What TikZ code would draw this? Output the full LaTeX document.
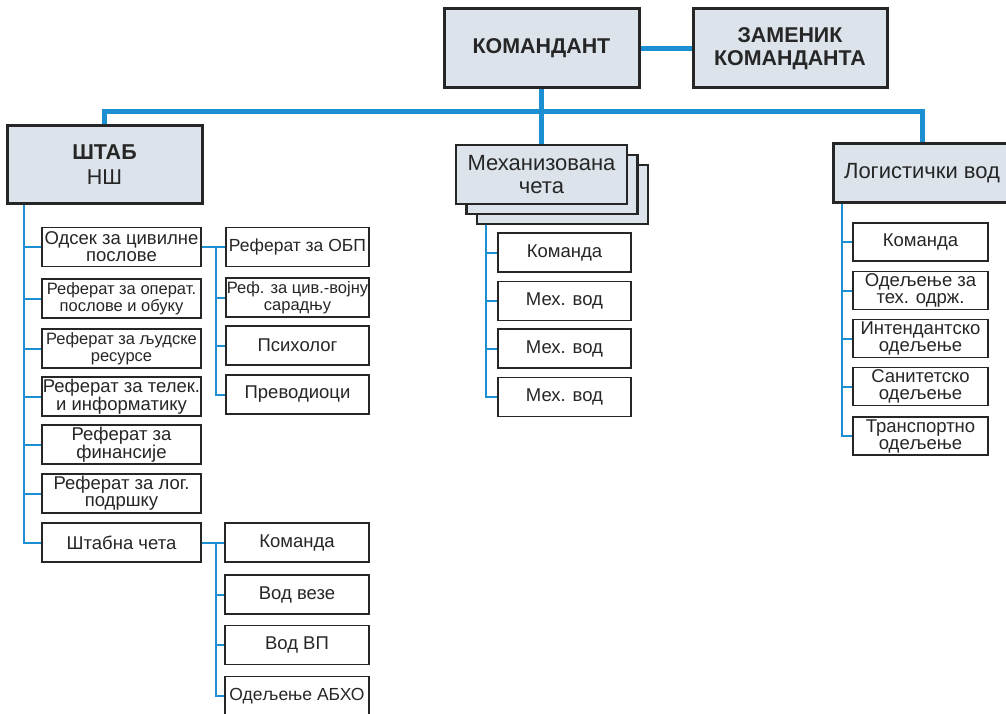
\documentclass[tikz,border=0pt]{standalone}
\usepackage{fontspec}
\setmainfont{Liberation Sans}
\usetikzlibrary{backgrounds}
\definecolor{lineblue}{HTML}{1B8FD2}
\definecolor{boxfill}{HTML}{DCE3EB}
\definecolor{boxline}{HTML}{262626}
\begin{document}
\begin{tikzpicture}[x=1pt,y=-1pt,
  head/.style={draw=boxline,line width=3pt,fill=boxfill,align=center,inner sep=0pt,text=boxline},
  unit/.style={draw=boxline,line width=1.8pt,fill=white,align=center,inner sep=0pt,minimum height=39pt,
    font=\fontsize{18.5}{17}\selectfont,text=boxline},
  tight/.style={font=\fontsize{16.5}{17}\selectfont},
  trunk/.style={lineblue,line width=5pt},
  branch/.style={lineblue,line width=2pt}]
\useasboundingbox (0,0) rectangle (1006,714);
% command level
\node[head,minimum width=195pt,minimum height=79pt,font=\bfseries\fontsize{21.4}{23}\selectfont] (kom) at (541.5,48.5) {КОМАНДАНТ};
\node[head,minimum width=194pt,minimum height=79pt,font=\bfseries\fontsize{21.4}{23}\selectfont] (zam) at (790,48.5) {ЗАМЕНИК\\КОМАНДАНТА};
% units
\node[head,minimum width=195pt,minimum height=78pt,font=\fontsize{21.5}{25}\selectfont] (stab) at (104.5,165) {\textbf{ШТАБ}\\НШ};
\node[head,line width=2.5pt,minimum width=171pt,minimum height=59pt] (mech3) at (562.5,194.5) {};
\node[head,line width=2.5pt,minimum width=171pt,minimum height=59pt] (mech2) at (552,184.5) {};
\node[head,line width=2.5pt,minimum width=171pt,minimum height=59pt,font=\fontsize{22}{23}\selectfont] (mech) at (541.5,174.5) {Механизована\\чета};
\node[head,minimum width=178pt,minimum height=59pt,font=\fontsize{22}{23}\selectfont] (log) at (922,173.5) {Логистички вод};
% staff
\node[unit,minimum width=159pt] (civ) at (121.5,247) {Одсек за цивилне\\послове};
\node[unit,tight,minimum width=159pt] (oper) at (121.5,298.5) {Реферат за операт.\\послове и обуку};
\node[unit,tight,minimum width=159pt] (ljud) at (121.5,348.5) {Реферат за људске\\ресурсе};
\node[unit,minimum width=159pt] (tel) at (121.5,396.5) {Реферат за телек.\\и информатику};
\node[unit,minimum width=159pt] (fin) at (121.5,444.5) {Реферат за\\финансије};
\node[unit,minimum width=159pt] (logp) at (121.5,493.5) {Реферат за лог.\\подршку};
\node[unit,minimum width=159pt] (stc) at (121.5,542.5) {Штабна чета};
\node[unit,minimum width=143pt,font=\fontsize{17.5}{17}\selectfont] (obp) at (297.5,247) {Реферат за ОБП};
\node[unit,tight,minimum width=143pt] (cvs) at (297.5,297.5) {Реф. за цив.-војну\\сарадњу};
\node[unit,minimum width=143pt] (psi) at (297.5,345.5) {Психолог};
\node[unit,minimum width=143pt] (prev) at (297.5,394.5) {Преводиоци};
\node[unit,minimum width=144pt] (stk) at (297,542.5) {Команда};
\node[unit,minimum width=144pt] (vv) at (297,594.5) {Вод везе};
\node[unit,minimum width=144pt] (vvp) at (297,645) {Вод ВП};
\node[unit,minimum width=144pt,font=\fontsize{17.5}{17}\selectfont] (abho) at (297,696) {Одељење АБХО};
% mechanized company
\node[unit,minimum width=133pt] (mk) at (564.5,252.5) {Команда};
\node[unit,minimum width=133pt] (mv1) at (564.5,301) {Мех. вод};
\node[unit,minimum width=133pt] (mv2) at (564.5,348.5) {Мех. вод};
\node[unit,minimum width=133pt] (mv3) at (564.5,397) {Мех. вод};
% logistics platoon
\node[unit,minimum width=135pt,minimum height=38pt] (lk) at (920.5,242) {Команда};
\node[unit,minimum width=135pt,minimum height=38pt] (ltx) at (920.5,290.5) {Одељење за\\тех. одрж.};
\node[unit,minimum width=135pt,minimum height=38pt] (lint) at (920.5,338.5) {Интендантско\\одељење};
\node[unit,minimum width=135pt,minimum height=38pt] (lsan) at (920.5,386.5) {Санитетско\\одељење};
\node[unit,minimum width=135pt,minimum height=38pt] (ltr) at (920.5,436) {Транспортно\\одељење};
\begin{scope}[on background layer]
\fill[white] (0,0) rectangle (1006,714);
\coordinate (bus) at (541.5,112);
\draw[trunk] (kom.east) -- (zam.west);
\draw[trunk] (kom.south) -- (bus);
\draw[trunk] (stab.north) |- (bus) -| (log.north);
\draw[trunk] (bus) -- (mech.north);
\coordinate (stabl) at ([xshift=18pt]stab.south west);
\foreach \n in {civ,oper,ljud,tel,fin,logp,stc} \draw[branch] (stabl) |- (\n.west);
\coordinate (civj) at ([xshift=14pt]civ.east);
\draw[branch] (civ.east) -- (civj);
\foreach \n in {obp,cvs,psi,prev} \draw[branch] (civj) |- (\n.west);
\coordinate (stcj) at ([xshift=14pt]stc.east);
\draw[branch] (stc.east) -- (stcj);
\foreach \n in {stk,vv,vvp,abho} \draw[branch] (stcj) |- (\n.west);
\coordinate (mechl) at ([xshift=10pt]mech3.south west);
\foreach \n in {mk,mv1,mv2,mv3} \draw[branch] (mechl) |- (\n.west);
\coordinate (logl) at ([xshift=10pt]log.south west);
\foreach \n in {lk,ltx,lint,lsan,ltr} \draw[branch] (logl) |- (\n.west);
\end{scope}
\end{tikzpicture}
\end{document}
